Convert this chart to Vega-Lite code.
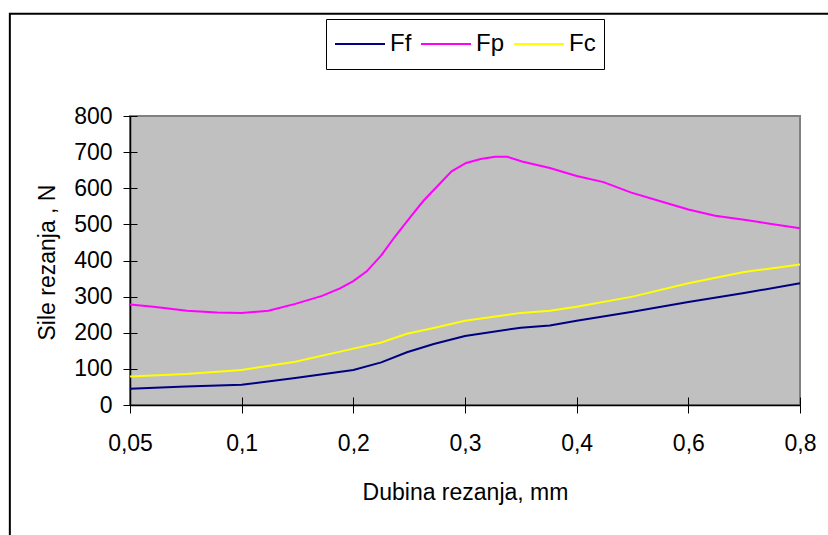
{
  "$schema": "https://vega.github.io/schema/vega-lite/v6.json",
  "width": 670,
  "height": 289,
  "autosize": {"type": "none"},
  "padding": {"left": 130, "top": 116, "right": 28, "bottom": 130},
  "background": "white",
  "config": {
    "font": "Liberation Sans",
    "view": {"fill": "#C0C0C0", "stroke": "#808080", "strokeWidth": 2},
    "axis": {"grid": false, "domainColor": "black", "tickColor": "black", "labelColor": "black", "titleColor": "black", "labelFont": "Liberation Sans", "titleFont": "Liberation Sans", "titleFontWeight": "normal"}
  },
  "datasets": {
    "frame": [{"name": "frame"}],
    "forces": [
      {"s": "Ff", "pos": 0, "v": 45}, {"s": "Ff", "pos": 0.5, "v": 51}, {"s": "Ff", "pos": 1, "v": 56}, {"s": "Ff", "pos": 1.48, "v": 75}, {"s": "Ff", "pos": 2, "v": 97}, {"s": "Ff", "pos": 2.25, "v": 118}, {"s": "Ff", "pos": 2.48, "v": 146}, {"s": "Ff", "pos": 2.72, "v": 169}, {"s": "Ff", "pos": 3, "v": 191}, {"s": "Ff", "pos": 3.5, "v": 214}, {"s": "Ff", "pos": 3.76, "v": 220}, {"s": "Ff", "pos": 4, "v": 233}, {"s": "Ff", "pos": 4.5, "v": 258}, {"s": "Ff", "pos": 5, "v": 285}, {"s": "Ff", "pos": 5.5, "v": 310}, {"s": "Ff", "pos": 6, "v": 337},
      {"s": "Fp", "pos": 0, "v": 278}, {"s": "Fp", "pos": 0.21, "v": 272}, {"s": "Fp", "pos": 0.51, "v": 261}, {"s": "Fp", "pos": 0.78, "v": 256}, {"s": "Fp", "pos": 1, "v": 255}, {"s": "Fp", "pos": 1.24, "v": 261}, {"s": "Fp", "pos": 1.48, "v": 280}, {"s": "Fp", "pos": 1.72, "v": 302}, {"s": "Fp", "pos": 1.88, "v": 323}, {"s": "Fp", "pos": 2, "v": 343}, {"s": "Fp", "pos": 2.12, "v": 370}, {"s": "Fp", "pos": 2.25, "v": 414}, {"s": "Fp", "pos": 2.37, "v": 465}, {"s": "Fp", "pos": 2.51, "v": 520}, {"s": "Fp", "pos": 2.63, "v": 566}, {"s": "Fp", "pos": 2.75, "v": 605}, {"s": "Fp", "pos": 2.88, "v": 647}, {"s": "Fp", "pos": 3.01, "v": 670}, {"s": "Fp", "pos": 3.14, "v": 681}, {"s": "Fp", "pos": 3.27, "v": 687}, {"s": "Fp", "pos": 3.38, "v": 687}, {"s": "Fp", "pos": 3.51, "v": 674}, {"s": "Fp", "pos": 3.76, "v": 656}, {"s": "Fp", "pos": 4, "v": 634}, {"s": "Fp", "pos": 4.24, "v": 617}, {"s": "Fp", "pos": 4.49, "v": 588}, {"s": "Fp", "pos": 4.75, "v": 564}, {"s": "Fp", "pos": 5, "v": 541}, {"s": "Fp", "pos": 5.24, "v": 524}, {"s": "Fp", "pos": 5.5, "v": 513}, {"s": "Fp", "pos": 5.73, "v": 502}, {"s": "Fp", "pos": 6, "v": 489},
      {"s": "Fc", "pos": 0, "v": 79}, {"s": "Fc", "pos": 0.5, "v": 86}, {"s": "Fc", "pos": 1, "v": 97}, {"s": "Fc", "pos": 1.48, "v": 120}, {"s": "Fc", "pos": 2, "v": 156}, {"s": "Fc", "pos": 2.25, "v": 173}, {"s": "Fc", "pos": 2.48, "v": 197}, {"s": "Fc", "pos": 2.72, "v": 213}, {"s": "Fc", "pos": 3, "v": 233}, {"s": "Fc", "pos": 3.5, "v": 255}, {"s": "Fc", "pos": 3.76, "v": 261}, {"s": "Fc", "pos": 4, "v": 272}, {"s": "Fc", "pos": 4.5, "v": 300}, {"s": "Fc", "pos": 5, "v": 337}, {"s": "Fc", "pos": 5.5, "v": 368}, {"s": "Fc", "pos": 6, "v": 389}
    ]
  },
  "resolve": {"axis": {"x": "independent", "y": "independent"}},
  "layer": [
    {
      "data": {"name": "frame"},
      "mark": {"type": "rect", "fill": null, "fillOpacity": 0, "stroke": "black", "strokeWidth": 2, "clip": false},
      "encoding": {
        "x": {"datum": -1.076, "type": "quantitative", "scale": {"domain": [0, 6], "nice": false, "zero": false}, "axis": {"orient": "bottom", "offset": -8, "values": [0, 1, 2, 3, 4, 5, 6], "tickSize": 8, "labels": false, "domain": false, "title": null, "zindex": 1}},
        "x2": {"datum": 7.5},
        "y": {"datum": 1083, "type": "quantitative", "scale": {"domain": [0, 800], "nice": false}, "axis": {"orient": "left", "offset": -7, "values": [0, 100, 200, 300, 400, 500, 600, 700, 800], "tickSize": 7, "labels": false, "domain": false, "title": null, "zindex": 1}},
        "y2": {"datum": -500}
      }
    },
    {
      "data": {"name": "forces"},
      "mark": {"type": "line", "strokeWidth": 2},
      "encoding": {
        "x": {"field": "pos", "type": "quantitative", "scale": {"domain": [0, 6], "nice": false, "zero": false},
          "axis": {"orient": "bottom", "values": [0, 1, 2, 3, 4, 5, 6], "labelExpr": "['0,05','0,1','0,2','0,3','0,4','0,6','0,8'][datum.value]", "tickSize": 8, "domainWidth": 1.5, "labelFontSize": 23, "labelPadding": 19, "labelFlush": false, "labelBaseline": "top", "title": "Dubina rezanja, mm", "titleFontSize": 23, "titleBaseline": "alphabetic", "titleY": 94}},
        "y": {"field": "v", "type": "quantitative", "scale": {"domain": [0, 800], "nice": false},
          "axis": {"orient": "left", "values": [0, 100, 200, 300, 400, 500, 600, 700, 800], "tickSize": 7, "domainWidth": 1.5, "labelFontSize": 23, "labelPadding": 11, "title": "Sile rezanja , N", "titleFontSize": 23, "titleAngle": -90, "titleBaseline": "alphabetic", "titleAlign": "center", "titleX": -76, "titleY": 146}},
        "color": {"field": "s", "type": "nominal",
          "scale": {"domain": ["Ff", "Fp", "Fc"], "range": ["#000080", "#FF00FF", "#FFFF00"]},
          "legend": {"orient": "none", "legendX": 196, "legendY": -97, "direction": "horizontal", "title": null, "strokeColor": "black", "fillColor": "white", "padding": 8, "clipHeight": 34, "symbolType": "stroke", "symbolSize": 2500, "symbolStrokeWidth": 2, "labelFontSize": 24, "labelFont": "Liberation Sans", "labelColor": "black", "labelOffset": 4, "columnPadding": 8}}
      }
    }
  ]
}
